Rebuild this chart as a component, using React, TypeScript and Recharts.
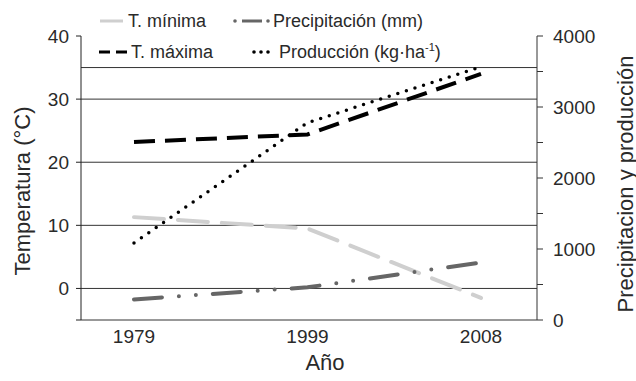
import React from "react";
import { LineChart, Line, XAxis, YAxis, ReferenceLine } from "recharts";

const years = ["1979", "1999", "2008"];
const tMinima = [11.3, 9.5, -1.5];
const tMaxima = [23.2, 24.4, 34.0];
const precipitacion = [290, 460, 810];
const produccion = [1085, 2780, 3565];

const tempTicks = [-5, 0, 10, 20, 30, 40];
const tempGrid = [0, 10, 20, 30, 35];
const rightTicks = [0, 500, 1000, 1500, 2000, 2500, 3000, 3500, 4000];

const data = years.map((year, i) => ({
  year,
  tMin: tMinima[i],
  tMax: tMaxima[i],
  precip: precipitacion[i],
  prod: produccion[i],
}));

const FONT = '"Liberation Sans", Arial, sans-serif';
const TEXT = "#2a2a2a";

function LeftTick({ x, y, payload }: any) {
  if (payload.value === -5) return null;
  return (
    <text x={x} y={y} dy={7} textAnchor="end" fontSize={19} fill={TEXT} fontFamily={FONT}>
      {payload.value}
    </text>
  );
}

function RightTick({ x, y, payload }: any) {
  if (payload.value % 1000 !== 0) return null;
  return (
    <text x={x} y={y} dy={7} textAnchor="start" fontSize={19} fill={TEXT} fontFamily={FONT}>
      {payload.value}
    </text>
  );
}

function Legend() {
  return (
    <svg
      width={636}
      height={70}
      style={{ position: "absolute", left: 0, top: 0, pointerEvents: "none" }}
      fontFamily={FONT}
      fontSize={18}
      fill={TEXT}
    >
      <line x1={100} y1={21} x2={123} y2={21} stroke="#cfcfcf" strokeWidth={3} />
      <text x={128} y={27}>T. mínima</text>

      <circle cx={235} cy={21} r={1.8} fill="#666" />
      <line x1={242} y1={21} x2={262} y2={21} stroke="#666" strokeWidth={3} />
      <circle cx={268} cy={21} r={1.8} fill="#666" />
      <text x={273} y={27}>Precipitación (mm)</text>

      <line x1={99} y1={52} x2={127} y2={52} stroke="#000" strokeWidth={3} strokeDasharray="11 6" />
      <text x={131} y={58}>T. máxima</text>

      <circle cx={254} cy={52} r={1.8} fill="#000" />
      <circle cx={261} cy={52} r={1.8} fill="#000" />
      <circle cx={268} cy={52} r={1.8} fill="#000" />
      <text x={279} y={58}>
        Producción (kg·ha<tspan fontSize={11} dy={-7}>-1</tspan>
        <tspan dy={7}>)</tspan>
      </text>
    </svg>
  );
}

export default function App() {
  return (
    <div style={{ position: "absolute", left: 0, top: 0, width: 636, height: 381, background: "#fff" }}>
      <LineChart width={636} height={381} data={data} margin={{ top: 36, right: 0, bottom: 0, left: 0 }}>
        <XAxis
          dataKey="year"
          height={61}
          padding={{ left: 53, right: 56 }}
          tickLine={false}
          tickSize={0}
          tickMargin={10}
          axisLine={{ stroke: "#333" }}
          tick={{ fontSize: 19, fill: TEXT, fontFamily: FONT }}
          label={() => (
            <text x={325} y={370} textAnchor="middle" fontSize={22} fill={TEXT} fontFamily={FONT}>
              Año
            </text>
          )}
        />
        <YAxis
          yAxisId="t"
          domain={[-5, 40]}
          ticks={tempTicks}
          interval={0}
          width={81}
          tickSize={5}
          tickMargin={7}
          axisLine={{ stroke: "#222" }}
          tickLine={{ stroke: "#222" }}
          tick={<LeftTick />}
          label={() => (
            <text
              x={22}
              y={191}
              transform="rotate(-90, 22, 191)"
              textAnchor="middle"
              dominantBaseline="central"
              fontSize={22}
              fill={TEXT}
              fontFamily={FONT}
            >
              Temperatura (°C)
            </text>
          )}
        />
        <YAxis
          yAxisId="p"
          orientation="right"
          domain={[0, 4000]}
          ticks={rightTicks}
          interval={0}
          width={99}
          tickSize={6}
          tickMargin={10}
          axisLine={{ stroke: "#333" }}
          tickLine={{ stroke: "#333" }}
          tick={<RightTick />}
          label={() => (
            <text
              x={625}
              y={184}
              transform="rotate(-90, 625, 184)"
              textAnchor="middle"
              dominantBaseline="central"
              fontSize={22}
              fill={TEXT}
              fontFamily={FONT}
            >
              Precipitacion y producción
            </text>
          )}
        />
        {tempGrid.map((v) => (
          <ReferenceLine key={v} yAxisId="t" y={v} stroke="#333" strokeWidth={1} />
        ))}
        <Line
          yAxisId="t"
          dataKey="tMin"
          type="linear"
          stroke="#cfcfcf"
          strokeWidth={4}
          strokeDasharray="30 14"
          strokeLinecap="round"
          dot={false}
          isAnimationActive={false}
        />
        <Line
          yAxisId="t"
          dataKey="tMax"
          type="linear"
          stroke="#000"
          strokeWidth={4}
          strokeDasharray="21 10"
          dot={false}
          isAnimationActive={false}
        />
        <Line
          yAxisId="p"
          dataKey="precip"
          type="linear"
          stroke="#666"
          strokeWidth={4}
          strokeLinecap="round"
          strokeDasharray="28 17 0 17 0 17"
          dot={false}
          isAnimationActive={false}
        />
        <Line
          yAxisId="p"
          dataKey="prod"
          type="linear"
          stroke="#000"
          strokeWidth={3.5}
          strokeLinecap="round"
          strokeDasharray="0 9"
          dot={false}
          isAnimationActive={false}
        />
      </LineChart>
      <Legend />
    </div>
  );
}
